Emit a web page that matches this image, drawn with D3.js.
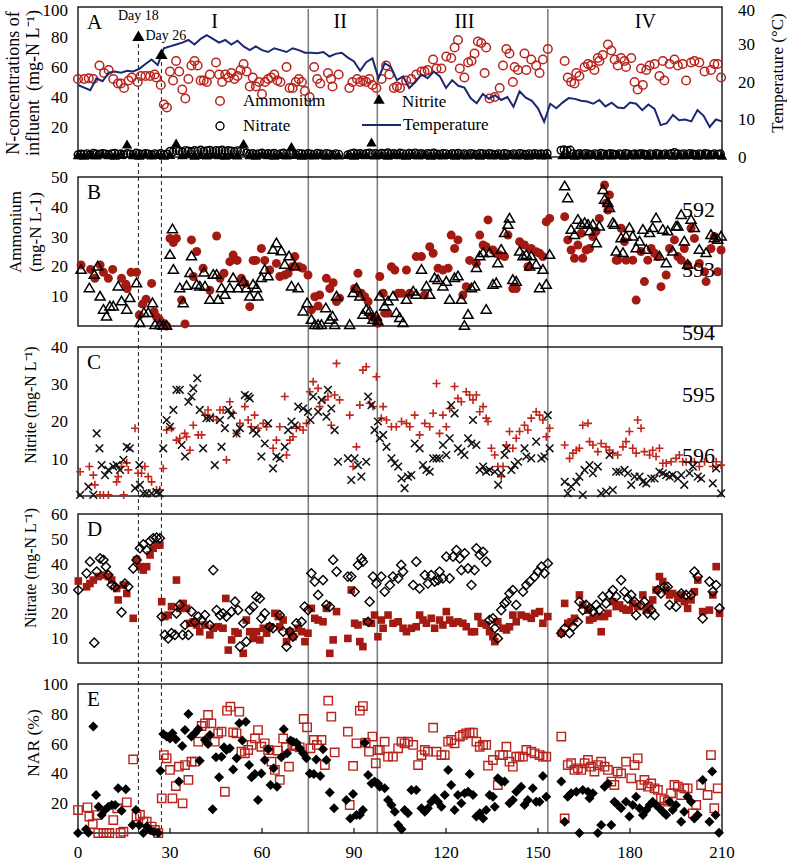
<!DOCTYPE html>
<html>
<head>
<meta charset="utf-8">
<script src="https://cdn.jsdelivr.net/npm/d3@7.9.0/dist/d3.min.js"></script>
<style>
  body { margin: 0; background: #fff; }
  svg { font-family: "Liberation Serif", "Times New Roman", serif; }
</style>
</head>
<body>
<svg id="chart" width="787" height="861"></svg>
<script>
// ---- data: [day, value] ----

// Panel A: influent
const ammInf = [[0,52],[2,52],[3.5,52.5],[5,52],[7,61],[8.5,56],[10,58],[11.5,52],[13,49],[14,49],[15,46],[16.5,51],[17.5,53],[19.5,50],[20.5,54],[22,54],[23.5,54],[25,55],[25.5,53],[27,48],[28,35],[29,33],[30,57],[31,51],[32,64],[33,57],[34,45],[35,39],[36,52],[37,61],[38,64],[39,61],[40,51],[41,51],[42,50],[43,55],[45,63],[46,55],[47,50],[48,55],[49,53],[50,56],[51,52],[52,54],[53,58],[54,62],[55,57],[56,47],[57,53],[58,47],[59,50],[60,42],[61,50],[62,52],[63,53],[64,55],[65,51],[66,50],[68,60],[69,46],[70,46],[71,50],[72,52],[73,50],[74,44],[75.5,40],[77,60],[78,52],[79,49],[81.5,56],[82.5,52],[83,47],[85,55],[88.5,46],[89.5,50],[91,52],[92,50],[93,51],[94,50],[95,52],[96,48],[97.3,46],[99,52],[100.5,61],[101.5,55],[103,46],[104,47],[105,46],[107,51],[108.7,52],[110.3,55],[112,57],[113,57],[114,58],[115.8,65],[116.9,59],[118.5,59],[120.1,67],[121.7,66],[122.8,73],[123.9,78],[124.5,59],[126,53],[127.2,63],[128.3,64],[129.3,69],[130.4,77],[131.5,76],[132.6,56],[133.1,73],[134.2,39],[135.9,40],[137.5,46],[138.6,61],[139.7,72],[140.7,69],[141.8,50],[142.4,60],[143.5,58],[145.6,69],[146.2,58],[147.8,65],[149.4,61],[150.5,56],[151.6,65],[153.2,72],[158.7,64],[159.7,53],[160.8,50],[161.9,49],[162.5,56],[163.5,54],[165.2,60],[166.3,62],[167.3,61],[168.4,58],[169.5,66],[170,64],[171.1,68],[172.8,75],[173.9,71],[175,65],[176,61],[177.1,66],[178.2,64],[178.7,60],[180.4,66],[181.5,50],[182.5,45],[183.6,59],[184.2,48],[185.3,58],[186.4,61],[188,62],[189.6,54],[190.7,64],[191.2,51],[192.9,62],[194.5,65],[195.6,61],[197.2,62],[198.3,51],[199.9,63],[201,64],[202.6,63],[204.3,57],[206.4,58],[207.5,62],[208.6,62],[209.7,53]];

const nitrateInf = [[0,1.5],[1,2],[2,1.8],[3,2.2],[4,1.5],[5,2.5],[6,2],[7,1.8],[8,2.4],[9,2],[10,1.6],[11,2.2],[12,2.5],[13,1.9],[14,2.1],[15,1.5],[16,2.3],[17,2],[18,1.7],[19,2.6],[20,2.1],[21,1.8],[22,2.4],[23,2],[24,1.5],[25,2.2],[26,1.9],[27,2.3],[28,1.6],[29,2],[30,3.8],[31,3.4],[32,4.3],[33,3.9],[34,3.5],[35,4.4],[36,4],[37,3.6],[38,4.3],[39,3.9],[40,4.6],[41,3.8],[42,4.2],[43,4.5],[44,3.7],[45,4.4],[46,4.1],[47,4.6],[48,3.8],[49,4.3],[50,4],[51,3.6],[52,4.2],[53,3.7],[54,3.9],[55,2.8],[56,2],[57,2.4],[58,1.8],[59,2.2],[60,2.6],[61,1.9],[62,2.3],[63,2],[64,2.5],[65,1.7],[66,2.2],[67,2.6],[68,1.9],[69,2.3],[70,2],[71,1.6],[72,2.4],[73,2.1],[74,1.8],[75,2.3],[76,2],[77,1.7],[78,2.5],[79,2.1],[80,1.8],[81,2.4],[82,2],[83,1.6],[84,2.2],[85,1.9],[88,1.5],[89,2.2],[90,2.6],[91,2],[92,2.4],[93,1.8],[94,2.3],[95,2.7],[96,2],[97,2.4],[98,1.9],[99,2.5],[100,2.2],[101,2.8],[102,2],[103,2.4],[104,1.8],[105,2.6],[106,2.2],[107,1.9],[108,2.5],[109,2.1],[110,2.7],[111,2],[112,2.3],[113,1.8],[114,2.4],[115,2.1],[116,2.6],[117,2],[118,1.8],[119,2.4],[120,2.2],[121,1.7],[122,2.3],[123,2],[124,2.5],[125,1.9],[126,2.2],[127,1.8],[128,2.4],[129,2],[130,1.7],[131,2.3],[132,2.1],[133,1.8],[134,2.4],[135,2],[136,1.6],[137,2.2],[138,1.9],[139,2.3],[140,2],[141,1.7],[142,2.2],[143,1.9],[144,2.4],[145,2],[146,1.6],[147,2.2],[148,1.9],[149,2.3],[150,1.8],[151,2.1],[152,1.9],[153,2.3],[157.5,4.5],[158.5,4.8],[159.5,4.3],[160.5,4.6],[161.5,2.2],[162.5,1.8],[163.5,2.3],[164.5,1.9],[165.5,2.4],[166.5,2],[167.5,1.7],[168.5,2.2],[169.5,1.9],[170.5,2.5],[171.5,2],[172.5,1.8],[173.5,2.3],[174.5,2],[175.5,1.6],[176.5,2.2],[177.5,1.9],[178.5,2.4],[179.5,2],[180.5,1.7],[181.5,2.1],[182.5,1.8],[183.5,2.3],[184.5,2],[185.5,1.6],[186.5,2.2],[187.5,1.9],[188.5,2.4],[189.5,2],[190.5,1.7],[191.5,2.2],[192.5,1.9],[193.5,2.3],[194.5,3],[195.5,2.1],[196.5,1.8],[197.5,2.2],[198.5,1.9],[199.5,2.4],[200.5,2],[201.5,1.7],[202.5,2.2],[203.5,1.9],[204.5,2.3],[205.5,2],[206.5,1.6],[207.5,2.2],[208.5,1.9],[209.5,2.1]];

const nitriteInf = [[0,0.8],[2,0.5],[4,1],[6,0.6],[8,1.2],[10,0.7],[12,0.4],[14,1],[16,8],[18,0.8],[20,0.5],[22,1.1],[24,0.6],[26,0.9],[28,0.4],[30,1],[32,8.6],[34,0.7],[36,1.2],[38,0.5],[40,0.9],[42,0.6],[44,1.1],[46,0.7],[48,0.4],[50,1],[52,0.6],[54,8.4],[56,0.8],[58,0.5],[60,1.1],[62,0.7],[64,0.4],[66,0.9],[68,0.6],[69.6,6.4],[71,1],[73,0.5],[75,0.8],[77,0.6],[79,1],[81,0.4],[83,0.8],[85,0.6],[88,0.9],[90,0.5],[92,1],[94,0.7],[95.7,9.3],[97,0.6],[99,0.9],[101,0.5],[103,1],[105,0.7],[107,0.4],[109,0.9],[111,0.6],[113,1.1],[115,0.5],[117,0.8],[119,0.6],[121,1],[123,0.4],[125,0.8],[127,0.6],[129,1],[131,0.5],[133,0.9],[135,0.6],[137,0.8],[139,0.4],[141,1],[143,0.6],[145,0.8],[147,0.5],[149,0.9],[151,0.6],[153,0.8],[158,0.7],[160,1],[162,0.5],[164,0.8],[166,0.6],[168,1],[170,0.4],[172,0.8],[174,0.6],[176,0.9],[178,0.5],[180,0.8],[182,0.6],[184,1],[186,0.5],[188,0.8],[190,0.6],[192,0.9],[194,0.4],[196,0.8],[198,0.6],[200,1],[202,0.5],[204,0.8],[206,0.6],[208,0.9],[210,0.5]];

const temperature = [[0,19.2],[2,18.5],[4,17.8],[6,21],[8,20.2],[10,22.5],[12,22.8],[14,22.5],[16,23],[18,22.8],[20,23.5],[22,24.8],[24,26],[26,24.5],[28,29],[30,29.5],[32,30],[34,30.5],[36,31.2],[38,30],[40,31.5],[42,32.5],[44,31.5],[46,30.5],[48,31.2],[50,30],[52,31],[54,29.5],[56,28.5],[58,29.5],[60,28.5],[62,28],[64,29],[66,28.5],[68,28],[70,29],[72,28.5],[74,27.8],[76,27.8],[78,27.7],[80,28],[82,26.8],[84,27.5],[86,27.8],[88,26.5],[90,25.5],[92,23],[94,25.3],[96,26.3],[98,21],[100,25],[102,24],[104,20.5],[106,21.5],[108,18.4],[110,20],[112,22],[114,21],[116,22.8],[118,21.5],[120,18.4],[122,20.5],[124,19],[126,18.5],[128,15.7],[130,14.3],[132,16.8],[134,15.5],[136,16.5],[138,15.2],[140,16],[142,13.4],[144,17.5],[146,15.8],[148,15],[150,13],[152,9.4],[154,14.2],[156,13],[158,14.5],[160,15.7],[162,15.5],[164,15],[166,14.8],[168,14.2],[170,15.2],[172,13.5],[174,14.5],[176,13.2],[178,13],[180,14.5],[182,14.2],[184,12.5],[186,14],[188,12.8],[190,8.5],[192,9],[194,11.2],[196,9.8],[198,10],[200,9.5],[202,12.5],[204,11],[206,8],[208,10],[210,9.5]];

// Panel B: ammonium
const ammRed = [[1,20.5],[4.1,19],[5.5,16],[7.2,20.5],[8.3,18],[9.9,16],[11.3,19],[14.2,16],[15.6,14],[16,12.6],[17.3,18],[19.1,18],[20,3.7],[21.1,7.4],[22.2,9],[24,14.3],[24.8,4.8],[25.6,3.1],[26.5,2.2],[27.8,0.9],[28.9,0],[30,29.4],[31.1,28],[32.1,29.4],[33.8,8.7],[34.9,0.7],[37,28.9],[37.6,16.6],[38.7,25],[40.8,19.4],[43,12],[45.2,30.2],[46.3,16],[47.6,17.7],[49.5,21.6],[50.6,23.8],[51.9,22],[53.3,16],[54.4,14.3],[56,6.5],[57.1,22],[58,22],[59.8,26],[60.9,22],[62.5,18.8],[64.7,21],[65.8,16.6],[67.4,17.1],[68.5,17.7],[69.9,19.9],[70.7,23.3],[72.1,19.9],[73.2,19.4],[75,17.1],[76.1,5.4],[77.2,9.8],[78.3,6.7],[78.8,10.4],[81,16],[82.1,12.6],[83.2,14.5],[84.3,8.2],[85.3,9.3],[90.2,12.6],[91.3,17.7],[92.4,11],[93.5,9.8],[94.6,8.2],[95.7,3.1],[96.7,2.6],[97.8,0.9],[98.4,16.6],[99.5,11],[100,4.3],[101.1,4.3],[102.2,19.9],[103.3,18.8],[104.4,11],[105.5,11],[107.1,18.8],[108.2,11],[110.3,23.3],[112,23.3],[113,10.4],[114.7,26.6],[115.8,24.4],[117.4,19.4],[119,18.8],[120.7,19.4],[121.7,30.5],[122.8,26],[123.9,28.9],[125.5,10.4],[126.6,13.2],[127.7,22],[129.9,21],[131,30.5],[132.1,27.2],[133.1,26.6],[133.7,35.6],[135.3,25.5],[136.4,24.4],[137.5,23.8],[139.1,23.3],[140.2,30.5],[141.8,12.6],[142.9,12.6],[144,28.3],[145.6,27.2],[146.7,19.9],[147.8,26],[149.4,24.9],[150.5,24.4],[151.6,23.3],[152.7,35],[153.8,36.1],[158.7,36.7],[159.7,28.9],[160.8,25.5],[161.9,22.7],[163,27.2],[164.1,31.1],[164.6,22.7],[165.7,25.5],[166.8,26],[167.9,30],[168.9,31.7],[170,36.1],[171.7,47.3],[172.2,41.2],[172.8,38.9],[173.3,44],[175.5,22.1],[176,22.1],[177.1,32.8],[178.2,28.3],[178.7,22.1],[180.9,22.1],[182,8.7],[183.6,25],[184.7,14.9],[185.8,22.1],[186.9,26],[188,24.4],[189.1,23.3],[190.1,13.2],[191.8,17.1],[192.9,26],[194.5,28.9],[195.6,23.3],[196.7,22.1],[197.7,26],[198.8,20.5],[199.9,32.8],[201,29.4],[202.6,21],[204.3,18.2],[204.8,14.9],[206.4,26],[207.5,30],[208.6,18.2],[209.7,25.5]];

const ammBlack = [[1,18.8],[3.7,12.6],[5.3,17.1],[6.4,19.9],[7.2,9.8],[8.3,5.4],[9.3,3.1],[10.4,6.5],[11.5,6.5],[13.1,13.2],[14.2,8.2],[15.9,5.4],[16.9,9.3],[19.1,14.3],[20.2,0.9],[21.5,4.3],[22.9,4.3],[24.3,7.6],[25.1,0.3],[26.7,0.3],[27.8,0],[28.9,0],[30,23.8],[30.8,32.4],[31.1,18.8],[33.2,12.6],[34.3,7.6],[35.4,13.4],[36.5,17.7],[37,23.3],[38.7,13.8],[39.7,13.2],[41.1,17.9],[41.4,13.2],[43,8.7],[44.1,17.1],[45.2,17.1],[45.7,8.7],[46.8,12.6],[47.9,10.4],[49.5,12.6],[50.6,16],[52.2,12.6],[53.9,14.8],[54.9,12.6],[56,9.8],[57.1,13.8],[58.2,12.6],[58.7,9.8],[59.8,16],[60.9,18.8],[62,16.6],[63.6,25.5],[64.7,27.7],[66.3,25],[67.4,20.5],[68.8,23.3],[69.6,13.2],[70.7,20],[71.8,12.6],[73.4,4.8],[74.7,7.6],[76.1,2],[77.2,0.3],[78.3,0.3],[79.4,0.3],[80.8,5.9],[82.1,2],[83,3.1],[83.7,0.3],[84.3,9.8],[88.6,0.3],[89.7,11],[90.8,12.6],[91.9,9.8],[92.9,3.7],[94,5.4],[95.1,4.8],[96.2,2],[97.3,3.1],[97.8,1.5],[98.4,9.8],[100,6.5],[101.1,8.2],[102.7,9.8],[103.8,4.3],[104.9,2.6],[106,0.9],[107.1,8.7],[109.3,11.5],[110.3,10.4],[112,18.8],[113.6,13.2],[114.7,10.4],[116.3,16],[117.4,15.4],[119,13.2],[120.1,14.8],[121.2,8.7],[122.8,16],[123.9,16.6],[125,8.7],[126,0],[127.2,3.7],[128.3,12.6],[129.3,13.2],[129.9,19.4],[131,23.3],[132.1,24.4],[133.1,5.4],[134.2,24.4],[135.3,13.8],[136.4,14.3],[136.9,21],[138,25.5],[139.1,31.1],[140.2,33.9],[140.7,36],[141.8,15.4],[142.9,14.8],[144,24.9],[145.1,23.3],[146.2,23.8],[147.3,19.9],[147.8,23.3],[149.4,20.5],[150.5,12.6],[151.6,18.8],[152.7,13.8],[153.8,23.8],[158.7,46.8],[159.7,42.8],[160.8,32.2],[161.9,30.5],[163,35.6],[164.1,33.9],[165.2,34.5],[166.3,33.9],[166.8,31.7],[167.9,33.9],[169,27.7],[170,33.3],[171.2,45.6],[171.7,42.3],[172.8,41.2],[173.3,39.5],[174.4,34.5],[174.9,33.9],[175.5,24.9],[177.1,29.4],[177.7,24.4],[178.7,30],[179.8,32.8],[180.9,30],[182,26],[183.1,28.3],[184.2,32.2],[185.3,25.5],[186.4,31.1],[187.4,32.8],[188.5,36.1],[189.6,23.3],[190.7,32.2],[191.8,21],[192.3,31.7],[193.9,24.9],[195,33.3],[195.6,33.3],[196.7,37.2],[197.7,28.3],[198.8,20.5],[199.9,35.6],[201,32.8],[202.6,25.5],[204.8,24.4],[206.4,30.5],[207.5,29.4],[208.6,28.9],[209.7,30]];

// Panel C: nitrite
const nitRed = [[0.7,6.5],[3.7,7.9],[5,5.6],[5.5,3],[7.2,0.3],[8.3,0.3],[9.9,0.3],[12.6,3.8],[13.1,5.2],[14.2,7.9],[14.9,0.3],[15.9,8.9],[16.4,7],[18.6,18.2],[19.6,6.1],[20.7,6.1],[21.8,7.9],[22.9,5.2],[24,3.8],[25.6,1.6],[26.7,1.6],[27.8,7.4],[28.9,17.7],[30.5,18.2],[32.1,15],[33.2,15.5],[34.8,16.8],[35.4,15.9],[36.5,12.3],[37.6,19],[39.2,16.4],[40.3,16.4],[41.4,21.7],[42.4,23.1],[44.1,21.3],[45.2,20.4],[46.3,23.1],[47.3,23.1],[48.4,9.7],[49.5,25.3],[50.6,22.2],[51.7,16.8],[52.8,19.5],[54.4,24],[55.5,20.4],[56.5,18.6],[57.6,21.7],[58.7,18.2],[60.4,19.5],[61.5,18.6],[63.6,12.8],[64.7,15],[65.8,18.6],[67.4,26.7],[68,11],[69.1,15],[70.1,15.9],[71.2,18.2],[72.3,18.6],[73.4,17.7],[74.5,19.5],[75.6,28],[76.7,30.7],[78.3,28.9],[78.8,24],[80.5,25.8],[81.5,26.7],[82.6,19],[83.7,27.1],[84.3,35.6],[85.3,25.8],[88.6,21.7],[89.7,7.9],[90.8,13.2],[91.9,24.4],[92.9,33.8],[94,34.7],[95.1,24.9],[96.2,24],[97.3,32],[98.9,20.9],[99.5,24],[100.6,20.4],[102.2,18.6],[103.8,18.6],[105.5,20],[107.1,19.5],[108.2,18.6],[109.8,21.7],[111.4,16.4],[113.1,19.5],[114.7,18.6],[115.8,22.2],[116.9,30.2],[117.9,16.8],[119,21.7],[120.1,18.6],[121.2,23.5],[122.8,29.4],[123.9,26.2],[125,25.3],[126.6,28],[127.7,27.1],[128.8,25.8],[129.9,27.1],[131,22.6],[132.1,24],[133.1,20.9],[133.7,20],[134.8,12.8],[135.9,11],[136.9,7.9],[138,5.2],[138.6,7.9],[139.7,13.7],[140.7,17.3],[141.8,12.8],[142.9,15.5],[144,17.3],[145.6,19],[146.7,17.7],[147.8,20.9],[149.4,22.6],[150.5,21.7],[151.6,20.4],[152.7,15.9],[153.8,18.2],[158.7,13.7],[160.3,10.1],[161.4,11.5],[162.5,12.3],[163.5,12.8],[164.6,19],[166.3,19.5],[166.8,14.6],[167.9,13.7],[169.5,11.9],[170.6,14.1],[172.2,13.2],[173.3,12.3],[174.4,11.5],[176,11],[177.7,13.2],[178.7,14.6],[179.8,17.3],[180.9,12.8],[182,11.5],[182.5,20.4],[183.6,18.2],[184.7,11.9],[186.4,11],[187.4,12.3],[188.5,10.6],[189.6,12.8],[190.7,8.8],[191.8,8.8],[193.4,9.2],[195,10.1],[196.1,11],[197.2,9.2],[198.3,9.2],[199.9,9.2],[201,9.2],[202.6,7.9],[204.3,9.2],[207,7.9],[208.1,9.2],[209.7,8.3]];

const nitBlack = [[0.7,0.3],[3.4,2.5],[5,0.3],[6.1,16.8],[7,12.8],[7.7,8.3],[8.8,5.6],[9.9,7],[11.5,7.9],[12.6,8.3],[13.7,7],[14.8,9.7],[15.9,13.2],[16.9,12.8],[18.6,2.1],[20,8.3],[20.2,3],[21.3,0.7],[22.4,0.7],[24,0.7],[25.6,1.1],[26.7,0.7],[27.8,12.8],[28.9,20.4],[30,18.6],[31.1,23.1],[32.1,28.5],[33.2,28.5],[33.8,13.7],[34.9,10.6],[36,25.3],[37,26.7],[37.6,28.9],[38.9,31.6],[39.7,23.1],[40.8,12.8],[41.9,20.9],[43,20.9],[44.6,8.3],[46.3,20.4],[46.8,13.2],[47.9,18.2],[49,23.1],[50,21.7],[51.7,16.8],[52.8,18.2],[54.4,27.1],[55.5,26.7],[56,26.2],[57.1,17.7],[58.2,16.8],[59.8,10.6],[60.9,14.1],[62,19.5],[63.6,7.4],[64.7,10.6],[65.8,10.1],[67.4,13.2],[68.5,17.7],[69.6,20],[70.7,19],[71.8,24],[73.4,23.5],[75,22.6],[75.8,20.4],[76.7,26.7],[78.3,22.6],[79.4,25.8],[81,21.3],[81.5,28.5],[82.6,23.5],[83.7,17.7],[84.8,9.2],[88,10.1],[89.1,4.3],[90.2,10.1],[91.3,8.3],[92.4,5.2],[94,9.2],[94.6,26.7],[95.7,24.4],[96.7,17.7],[97.8,20],[98.4,15.5],[99.5,16.4],[100.6,13.2],[102.2,10.1],[103.3,8.8],[104.4,7.9],[105.5,4.7],[106.5,2.1],[107.6,5.2],[108.7,5.6],[109.8,14.1],[111.4,12.8],[112.5,8.3],[113.6,7],[114.7,6.5],[115.8,10.1],[116.9,10.1],[117.9,10.1],[119,13.7],[120.1,11],[121.2,15.5],[121.7,24.4],[122.8,22.2],[123.9,12.8],[125,11.9],[126,11],[127.2,15.5],[128.3,14.1],[128.8,20.4],[129.9,13.7],[131,7],[132.1,7.9],[133.1,6.5],[134.2,7],[135.9,6.5],[137,3],[138,6.1],[139.1,11],[139.7,12.8],[141.3,7],[142.4,8.3],[143.5,9.2],[145.6,12.8],[146.2,10.6],[147.8,10.1],[149.4,14.6],[151.1,10.1],[152.1,10.6],[153.2,21.7],[153.8,12.8],[158.7,3.8],[159.7,0.7],[160.8,2.5],[162.5,3.8],[163.5,5.2],[164.6,0.3],[165.2,7],[166.8,8.3],[167.9,6.1],[169.5,7.9],[170.6,0.7],[172.2,1.2],[173.3,11],[174.4,1.6],[175.5,6.5],[176.6,6.5],[178.2,7],[179.3,6.1],[180.4,3],[181.5,5.2],[183.1,5.2],[184.2,3.8],[185.3,3.4],[186.9,4.7],[188,4.7],[189.6,6.5],[190.7,6.1],[191.8,5.6],[192.9,5.2],[193.9,5.6],[195.6,4.7],[196.7,5.6],[197.7,3],[199.4,6.1],[200.5,7.9],[202.1,5.2],[203.2,4.7],[207,3.4],[208.1,7.4],[209.7,0.7]];

// Panel D: nitrate
const ntaRed = [[0.1,33],[2.8,30.7],[3.9,32],[5,33.4],[6.6,34.8],[8.3,35.4],[9.9,34.8],[11,33.4],[12.6,30],[13.1,25.4],[14.8,31.4],[15.9,28],[18,18],[19.1,41.5],[20.2,38.8],[21.3,37.4],[22.4,38.8],[23.5,43.5],[24.5,46.2],[25.6,47.5],[26.7,47.5],[27.3,24.7],[28.3,18.7],[29.4,19.3],[30.5,22.7],[32.1,33.4],[33.2,22],[34.3,24],[35.4,22],[36.5,16],[37.6,16.6],[38.7,15.3],[39.7,12.6],[41.4,15.3],[43,11.3],[44.1,14],[45.7,14.6],[47.3,14],[48.2,26],[49,5.2],[50.1,9.3],[51.2,12.6],[52.2,12],[53.9,3.9],[54.9,17.3],[56,12.6],[57.1,9.9],[58.2,12.6],[59.3,9.3],[60.4,14],[61.5,12],[62.5,14.6],[64.2,20],[65.3,18.7],[65.8,14.6],[66.9,17.3],[68,8.6],[69.1,12.6],[70.1,10.6],[71.8,14],[72.9,12.6],[74,8.6],[75,12],[76.1,22],[77.2,18],[78.3,17.3],[79.9,16.6],[81,22],[82.1,3.9],[83.2,9.3],[84.3,20.7],[88,9.9],[89.1,29.4],[90.2,16],[91.3,15.3],[91.9,8.6],[92.9,6.6],[94,16.6],[95.7,16],[96.7,19.3],[97.8,10.6],[98.9,17.3],[99.5,14],[101.1,19.3],[102.7,16],[104.4,16.6],[106,14],[107.1,12.6],[108.7,14],[110.3,14.6],[111.4,19.3],[112.5,17.3],[113.6,16],[115.2,18],[116.3,14],[117.9,17.3],[119,15.3],[120.1,20.7],[121.2,17.3],[122.3,16],[123.9,16.6],[125.5,16],[126.6,14.6],[128.3,12.6],[129.3,12.6],[130.4,18.7],[131.5,16],[133.1,15.3],[134.2,12.6],[135.3,10.6],[135.9,8.6],[136.9,16.6],[138.6,14],[139.7,13.3],[140.7,14.6],[141.8,19.3],[142.9,16.6],[144.5,19.3],[146.2,18.7],[147.8,18],[148.9,20],[150.5,20.7],[151.6,16],[153.2,18.7],[157.6,12],[158.7,24],[159.7,16],[160.8,16.6],[161.9,18],[163.5,27.4],[164.6,23.4],[166.3,21.3],[166.8,17.3],[167.9,18],[169.5,18.7],[170.6,12.6],[171.7,18.7],[172.8,20],[174.4,24.7],[175.5,22.7],[176.6,23.4],[177.7,22],[178.7,21.3],[179.8,21.3],[180.9,24],[182.5,22.7],[184.2,27.4],[185.3,21.3],[186.4,22.7],[187.4,25.4],[188.5,29.4],[189.6,34.8],[190.7,32.8],[191.8,29.4],[192.9,27.4],[193.9,28],[195.6,26],[196.7,27.4],[197.7,24.7],[198.8,22],[199.9,25.4],[201,28.7],[202.1,33.4],[203.7,20.7],[205.9,21.3],[207,27.4],[208.1,38.8],[209.2,20]];

const ntaBlack = [[0.1,29.4],[2.8,36.1],[3.9,40.8],[5.3,8.2],[6.1,36.8],[7.2,42.1],[8.3,41.5],[9.1,38.8],[9.9,35.4],[11,31.4],[12.1,30.7],[14.2,20.4],[15.3,32],[16.4,30.7],[18,38.1],[19.1,41.5],[20.2,46.2],[21.3,47.8],[22.4,45.5],[23.5,49.1],[24.5,50.2],[25.6,50.5],[26.7,50.2],[27.3,18.7],[28.3,11.3],[29.4,9.9],[30.5,12],[31.6,11.3],[32.1,20],[33.2,23.4],[34.1,11.3],[34.9,15.3],[36,11.3],[37,20.7],[38.1,16.6],[39.2,18.7],[40.3,17.3],[41.4,19.3],[43,15.3],[44.1,37.4],[45.2,21.3],[46.3,19.3],[47.3,20],[48.4,18.7],[50.1,20.7],[51.2,24.7],[52.2,21.3],[52.8,6.6],[53.9,16],[54.9,8.6],[56,21.3],[57.1,22.7],[58.2,26.7],[59.3,26],[59.8,18],[60.9,20],[62.5,14.6],[63.6,14],[65.8,19.3],[66.9,12.6],[68,6.6],[69.1,12.6],[70.1,10.6],[71.2,16],[72.9,16.6],[73.9,22.7],[75,21.3],[76.1,36.1],[77.2,32.8],[78.3,27.4],[79.9,33.4],[81,23.4],[82.1,22.7],[83.2,41.5],[84.3,36.8],[88,34.8],[89.1,34.8],[90.2,28.7],[91.3,39.5],[92.4,42.1],[92.9,40.8],[94.6,16.6],[95.1,24.7],[96.2,34.8],[97.3,32],[98.9,34.8],[100,28.7],[101.7,31.4],[102.7,34.8],[104.4,34.1],[105.4,39.5],[106,36.8],[109.3,31.4],[110.3,40.8],[111.4,30],[113.1,35.4],[114.1,32],[115.2,35.4],[116.3,32.8],[117.4,33.4],[117.9,36.8],[119,34.1],[120.1,42.8],[121.2,34.1],[122.3,42.8],[123.4,45.5],[124.5,42.1],[125,37.4],[126.1,44.2],[127.2,38.1],[128.3,31.4],[129.3,37.4],[129.9,46.2],[131,43.5],[132.1,44.8],[133.1,40.8],[134.2,17.3],[135.3,18],[135.9,14],[136.9,9.9],[138,21.3],[139.1,24],[139.7,24.7],[140.7,28],[141.8,29.4],[142.9,23.4],[145.1,28.7],[146.2,31.4],[147.3,32.8],[148.9,34.8],[150,36.8],[151.1,38.8],[152.1,36.1],[153.2,40.1],[157.6,12],[158.7,14],[160.3,12],[161.4,14.6],[163,16.6],[163.5,24.7],[164.6,21.3],[165.7,23.4],[166.8,22],[167.9,20.7],[169,23.4],[170,21.3],[171.1,26.7],[172.2,24],[173.3,27.4],[174.4,29.4],[175.5,26.7],[177.1,33.4],[178.2,28.7],[179.3,26],[180.4,27.4],[181.5,24.7],[182,19.3],[183.6,23.4],[184.7,24.7],[185.8,20],[186.9,21.3],[188,19.3],[189.1,29.4],[190.1,28],[191.2,30.7],[192.3,30.7],[192.9,23.4],[195,22.7],[196.7,28],[198.3,27.4],[199.9,27.4],[201,36.8],[202.1,34.8],[203.7,18],[205.9,32.8],[207,28.7],[208.1,31.4],[209.2,22]];

// Panel E: NAR
const narRed = [[0,15.4],[3.1,17.2],[3.7,11],[4.8,6],[6.1,12],[6.6,0],[8.3,0],[9.3,0],[10.2,0],[11.5,8.7],[12.8,16.6],[13.9,0],[14.8,0.9],[15.9,20.6],[18,49.4],[19.1,11],[20.2,12.1],[21.3,7.6],[22.4,7.6],[24,4.3],[25.1,2],[26.2,0],[27.3,23.3],[28,52.3],[28.9,50.1],[30,42.3],[30.8,23.3],[31.9,31.5],[32.9,44.5],[34.1,19.9],[34.9,45.6],[36,35.6],[37,47.9],[38.1,47.9],[39.2,61.3],[40.3,71.8],[41.4,73.6],[42.4,79.2],[43.5,73.6],[44.6,61.3],[45.7,66.9],[46.8,68],[47.9,27.7],[48.6,82.1],[49.7,84.8],[50.6,67.6],[51.7,66.9],[52.6,81.4],[53.3,54.6],[54.4,53.5],[55.5,55.7],[56.6,59.1],[57.7,63.5],[58.7,69.1],[59.8,57.9],[60.9,60.2],[62,55.7],[63.1,47.9],[64.2,42.3],[65.2,55.3],[65.8,35.6],[66.9,63.5],[67.8,57.5],[68.8,44.5],[69.9,59.1],[71,58.4],[72.3,57.5],[73.6,76.5],[74.7,70.9],[75.8,56.8],[76.9,62.4],[77.9,59.1],[79.4,62.4],[80.5,45.6],[81.6,88.8],[82.6,78.1],[83.7,54.1],[88,68],[88.6,18.8],[89.7,45],[90.8,60.2],[91.9,82.1],[92.9,85.2],[93.8,60.6],[94.9,54.6],[96,64.7],[97.1,46.8],[97.8,55.7],[98.4,55.7],[100,61.3],[101.1,51.2],[102.7,51.2],[104.4,56.8],[105.5,61.3],[106.5,60.2],[107.6,61.3],[109.3,59.1],[110.9,45.6],[112,52.3],[113.1,55.7],[114.1,54.6],[115.8,70.7],[116.9,54.6],[118.5,52.3],[119.6,52.3],[120.7,61.3],[121.7,62.4],[122.8,60.2],[124.5,64.7],[125.5,65.8],[126.6,66.9],[127.7,67.3],[128.8,67.3],[129.9,61.3],[131,57.9],[132.1,59.1],[133.1,59.1],[133.7,45.2],[135.3,49],[136.9,32.2],[137.5,52.3],[138.6,52.3],[139.7,57.9],[140.7,47.9],[141.8,44.5],[142.9,51.2],[144,51.2],[145.1,51.2],[146.2,55.7],[147.8,54.6],[148.9,53.5],[150.5,52.3],[151.6,51.2],[152.7,51.2],[157.6,64.7],[158.7,9.8],[159.7,45.6],[160.8,46.8],[161.9,42.3],[163,43.4],[164.1,42.3],[165.2,46.8],[166.3,49],[167.3,44.5],[168.4,41.2],[169.5,45.6],[170.6,47.9],[171.7,44.5],[172.8,42.3],[173.9,34.5],[174.9,32.2],[176,41.2],[177.1,40],[178.7,47.9],[180.4,36.7],[181.5,45.6],[182.5,50.1],[183.6,32.2],[184.7,35.6],[185.8,31.1],[186.9,33.3],[188,30],[189.1,28.9],[190.1,23.3],[191.2,22.1],[192.3,21],[193.4,26.6],[194.5,32.2],[195.6,31.1],[196.7,25.5],[197.7,30],[198.8,30],[200.5,13.2],[201.6,18.8],[203.2,32.2],[205.3,25.5],[206.4,52.3],[207.5,16.6],[208.6,30]];

const narBlack = [[0,0],[2.6,2.5],[3.4,0.2],[5,71.4],[5.9,25.5],[6.7,17.7],[7.7,12.1],[8.8,15.4],[9.9,17.7],[11,18.8],[12.1,18.8],[13.1,30],[14.2,15],[15.6,29.3],[17.8,5.4],[18.9,15.4],[20,5.4],[21.3,0],[22.4,4.3],[23.5,2],[24.7,0.9],[26.2,0],[26.9,41.8],[27.8,66.4],[28.9,64.7],[30,63.5],[30.8,66.9],[31.9,62.9],[32.9,34.5],[34,58.4],[34.9,69.1],[36,79.9],[37,64.7],[38.1,66.9],[39.2,69.6],[39.7,48.5],[41.4,62.4],[42.4,59.7],[43,65.8],[43.9,15.9],[45,50.8],[46,37.4],[46.8,51.2],[47.6,57.5],[48.4,55.7],[49.5,56.8],[50.6,42.7],[51.7,50.1],[52.6,73.6],[53.6,62],[54.7,74.7],[55.8,45.6],[56.6,37.4],[57.7,39.6],[58.7,22.1],[59.8,40],[60.9,49],[62,56.2],[62.8,32.2],[63.8,43.4],[64.9,31.1],[66.3,50.8],[67.1,69.6],[68.2,53.5],[69.3,62],[70.1,61.3],[71.2,60.6],[72.3,56.8],[73.4,53.5],[74.5,50.1],[75.6,40],[76.9,39.6],[77.7,49.4],[79,38.3],[79.9,56.2],[81,49],[82.1,27.1],[83.5,16.6],[87.5,22.1],[88.8,9.8],[89.7,26.2],[90.8,12.1],[91.9,12.1],[92.9,15.4],[93.5,60.6],[94.6,38.9],[95.7,33.3],[96.7,34.5],[97.8,33.3],[98.4,31.1],[100,30],[101.1,22.1],[102.2,18.8],[103.3,14.3],[104.4,5.4],[105.5,2.5],[106.5,15.4],[107.6,13.2],[108.7,28.9],[110.3,28.9],[112,16.6],[113.1,14.3],[114.1,16.6],[115.2,21],[116.3,23.3],[117.4,21],[118.5,17.7],[119.6,25.5],[120.7,42.3],[121.7,32.2],[122.8,15.4],[123.9,25.5],[125,19.9],[126.1,26.6],[127.2,27.7],[127.7,39.6],[128.8,25.5],[129.9,11],[131,13.2],[132.1,9.8],[133.1,15.4],[134.2,25.5],[135.3,24.4],[135.9,17.7],[136.9,36.7],[138,34.5],[139.1,34.5],[140.7,19.9],[141.8,22.1],[142.9,27.7],[144.5,31.1],[145.6,18.8],[146.7,22.1],[148.3,30],[149.4,21],[150.5,21],[151.6,38.3],[152.7,24.4],[157.6,34.5],[158.7,7.6],[159.7,24.4],[160.8,26.6],[162.5,27.7],[163.5,0],[164.6,28.9],[166.3,27.7],[166.8,23.3],[167.9,26.6],[169.5,0],[170.6,5.4],[171.7,31.1],[172.8,33.3],[173.9,5.4],[174.9,21],[176,18.8],[177.1,16.6],[178.7,21],[179.8,11],[180.9,18.8],[182,24.4],[183.1,16.6],[184.2,12.1],[185.3,15.4],[186.4,18.8],[187.4,21],[188.5,18.8],[189.6,16.6],[190.7,14.3],[191.8,12.1],[192.9,21],[193.9,15.4],[195,18.8],[196.7,7.6],[197.7,14.3],[198.8,24.4],[199.9,21],[201,9.8],[202.1,12.1],[203.7,35.6],[205.9,7.6],[206.8,41.2],[207.9,12.1],[209,0.2]];

// phase boundaries and operation-day markers
const phaseLines = [75.1, 97.6, 153.2];
const dayMarks = [{day: 19.7, label: 'Day 18'}, {day: 27.2, label: 'Day 26'}];
const phaseLabels = [{day: 44.5, text: 'I'}, {day: 85.5, text: 'II'}, {day: 126, text: 'III'}, {day: 185, text: 'IV'}];
const xTicks = [0, 30, 60, 90, 120, 150, 180, 210];
const tempTicks = [0, 10, 20, 30, 40];
const strayNumbers = ['592', '593', '594', '595', '596'];

// ---- layout ----
const svg = d3.select('#chart');
const x = d3.scaleLinear().domain([0, 210]).range([78, 722]);

const panels = [
  {id: 'A', top: 7, bottom: 157, max: 100, ticks: [20, 40, 60, 80, 100]},
  {id: 'B', top: 177, bottom: 326, max: 50, ticks: [10, 20, 30, 40, 50]},
  {id: 'C', top: 347, bottom: 496, max: 40, ticks: [10, 20, 30, 40]},
  {id: 'D', top: 514, bottom: 663, max: 60, ticks: [10, 20, 30, 40, 50, 60]},
  {id: 'E', top: 684, bottom: 833, max: 100, ticks: [20, 40, 60, 80, 100]}
];
panels.forEach(p => { p.y = d3.scaleLinear().domain([0, p.max]).range([p.bottom, p.top]); });
const yT = d3.scaleLinear().domain([0, 40]).range([157, 7]);

const RED_OPEN = '#b8231c';
const RED_FILL = '#a31a12';

// custom marker shapes, size = half width
const symCircle = {draw(c, r) { c.moveTo(r, 0); c.arc(0, 0, r, 0, 2 * Math.PI); }};
const symTri = {draw(c, r) { c.moveTo(0, -r); c.lineTo(r * 0.95, r * 0.62); c.lineTo(-r * 0.95, r * 0.62); c.closePath(); }};
const symSquare = {draw(c, r) { c.rect(-r, -r, 2 * r, 2 * r); }};
const symDiamond = {draw(c, r) { c.moveTo(0, -r); c.lineTo(r, 0); c.lineTo(0, r); c.lineTo(-r, 0); c.closePath(); }};
const symPlus = {draw(c, r) { c.moveTo(-r, 0); c.lineTo(r, 0); c.moveTo(0, -r); c.lineTo(0, r); }};
const symTimes = {draw(c, r) { c.moveTo(-r, -r); c.lineTo(r, r); c.moveTo(-r, r); c.lineTo(r, -r); }};

function drawSeries(data, y, o) {
  svg.append('g').selectAll('path').data(data).join('path')
    .attr('transform', d => `translate(${x(d[0])},${y(d[1])})`)
    .attr('d', d3.symbol().type(o.type).size(o.r))
    .attr('fill', o.fill || 'none')
    .attr('stroke', o.stroke || 'none')
    .attr('stroke-width', o.sw || 0);
}

// phase lines (behind everything)
svg.append('g').selectAll('line').data(phaseLines).join('line')
  .attr('x1', d => x(d)).attr('x2', d => x(d))
  .attr('y1', 9).attr('y2', 833)
  .attr('stroke', '#7a7a7a').attr('stroke-width', 1.5);

const markY = [37, 55];
svg.append('g').selectAll('line').data(dayMarks).join('line')
  .attr('x1', d => x(d.day)).attr('x2', d => x(d.day))
  .attr('y1', (d, i) => markY[i]).attr('y2', 833)
  .attr('stroke', '#222').attr('stroke-width', 1).attr('stroke-dasharray', '4,3');

// frames, tick labels, panel letters
// (labels sitting at the very top edge are nudged down a little so they stay in view)
panels.forEach(p => {
  svg.append('rect')
    .attr('x', 78).attr('y', p.top).attr('width', 644).attr('height', p.bottom - p.top)
    .attr('fill', 'none').attr('stroke', '#111').attr('stroke-width', 1.4);
  svg.append('g').selectAll('text').data(p.ticks).join('text')
    .attr('x', 68).attr('y', d => Math.max(p.y(d), 10)).attr('dy', '0.35em')
    .attr('text-anchor', 'end').attr('font-size', 17).text(d => d);
  svg.append('text').attr('x', 87).attr('y', p.top + 22)
    .attr('font-size', 21).text(p.id);
});

const [pA, pB, pC, pD, pE] = panels;

// panel A
drawSeries(nitrateInf, pA.y, {type: symCircle, r: 3.8, stroke: '#000', sw: 1.4});
drawSeries(nitriteInf, pA.y, {type: symTri, r: 5.5, fill: '#000'});
drawSeries(ammInf, pA.y, {type: symCircle, r: 4.3, stroke: RED_OPEN, sw: 1.5});
svg.append('path').datum(temperature)
  .attr('d', d3.line().x(d => x(d[0])).y(d => yT(d[1])))
  .attr('fill', 'none').attr('stroke', '#1c2772').attr('stroke-width', 2);

// panel B
drawSeries(ammRed, pB.y, {type: symCircle, r: 4.5, fill: RED_FILL});
drawSeries(ammBlack, pB.y, {type: symTri, r: 5.3, stroke: '#000', sw: 1.5, fill: 'none'});

// panel C
drawSeries(nitRed, pC.y, {type: symPlus, r: 4, stroke: '#c0261a', sw: 1.6});
drawSeries(nitBlack, pC.y, {type: symTimes, r: 3.8, stroke: '#111', sw: 1.5});

// panel D
drawSeries(ntaRed, pD.y, {type: symSquare, r: 3.8, fill: RED_FILL});
drawSeries(ntaBlack, pD.y, {type: symDiamond, r: 4.6, stroke: '#000', sw: 1.4, fill: 'none'});

// panel E
drawSeries(narRed, pE.y, {type: symSquare, r: 4.2, stroke: RED_OPEN, sw: 1.4});
drawSeries(narBlack, pE.y, {type: symDiamond, r: 5, fill: '#000'});

// x axis ticks and labels
svg.append('g').selectAll('line').data(xTicks.slice(1, -1)).join('line')
  .attr('x1', d => x(d)).attr('x2', d => x(d)).attr('y1', 833).attr('y2', 828)
  .attr('stroke', '#111').attr('stroke-width', 1.2);
svg.append('g').selectAll('text').data(xTicks).join('text')
  .attr('x', d => x(d)).attr('y', 858).attr('text-anchor', 'middle')
  .attr('font-size', 17).text(d => d);

// right axis (temperature)
svg.append('g').selectAll('text').data(tempTicks).join('text')
  .attr('x', 738).attr('y', d => Math.max(yT(d), 10)).attr('dy', '0.35em')
  .attr('font-size', 17).text(d => d);
svg.append('text').attr('transform', 'translate(783,73) rotate(-90)')
  .attr('text-anchor', 'middle').attr('font-size', 17).text('Temperature (°C)');

// y axis titles (plain rotated text)
const yTitles = [
  {x: 19, y: 83, size: 18, text: 'N-concentrations of'},
  {x: 39, y: 83, size: 18, text: 'influent  (mg-N L\u207B\u00B9)'},
  {x: 21, y: 232, size: 17, text: 'Ammonium'},
  {x: 41, y: 232, size: 17, text: '(mg-N L-1)'},
  {x: 36, y: 405, size: 16, text: 'Nitrite (mg-N L\u207B\u00B9)'},
  {x: 36, y: 568, size: 16, text: 'Nitrate (mg-N L\u207B\u00B9)'},
  {x: 39, y: 743, size: 17.5, text: 'NAR (%)'}
];
svg.append('g').selectAll('text').data(yTitles).join('text')
  .attr('transform', d => `translate(${d.x},${d.y}) rotate(-90)`)
  .attr('text-anchor', 'middle').attr('font-size', d => d.size)
  .attr('xml:space', 'preserve')
  .text(d => d.text);

// phase labels
svg.append('g').selectAll('text').data(phaseLabels).join('text')
  .attr('x', d => x(d.day)).attr('y', 28).attr('text-anchor', 'middle')
  .attr('font-size', 20).text(d => d.text);

// day markers
svg.append('g').selectAll('path').data(dayMarks).join('path')
  .attr('transform', (d, i) => `translate(${x(d.day)},${markY[i]})`)
  .attr('d', d3.symbol().type(symTri).size(6.5)).attr('fill', '#000');
svg.append('text').attr('x', x(dayMarks[0].day)).attr('y', 20)
  .attr('text-anchor', 'middle').attr('font-size', 14).text(dayMarks[0].label);
svg.append('text').attr('x', x(dayMarks[1].day) - 16).attr('y', 40)
  .attr('font-size', 14).text(dayMarks[1].label);

// legend (panel A)
const legend = svg.append('g').attr('font-size', 17);
legend.append('path').attr('transform', 'translate(220,101)')
  .attr('d', d3.symbol().type(symCircle).size(4.3)).attr('fill', 'none').attr('stroke', RED_OPEN).attr('stroke-width', 1.5);
legend.append('text').attr('x', 243).attr('y', 106).text('Ammonium');
legend.append('path').attr('transform', 'translate(220,126)')
  .attr('d', d3.symbol().type(symCircle).size(4)).attr('fill', 'none').attr('stroke', '#000').attr('stroke-width', 1.4);
legend.append('text').attr('x', 243).attr('y', 131).text('Nitrate');
legend.append('path').attr('transform', 'translate(379,100)')
  .attr('d', d3.symbol().type(symTri).size(6)).attr('fill', '#000');
legend.append('text').attr('x', 402).attr('y', 107).text('Nitrite');
legend.append('line').attr('x1', 362).attr('x2', 401).attr('y1', 125).attr('y2', 125)
  .attr('stroke', '#1c2772').attr('stroke-width', 2);
legend.append('text').attr('x', 403).attr('y', 130).text('Temperature');

// stray line numbers present in the source image
svg.append('g').selectAll('text').data(strayNumbers).join('text')
  .attr('x', 682).attr('y', (d, i) => [217, 277, 340, 402, 463][i])
  .attr('font-size', 22).text(d => d);
</script>
</body>
</html>
